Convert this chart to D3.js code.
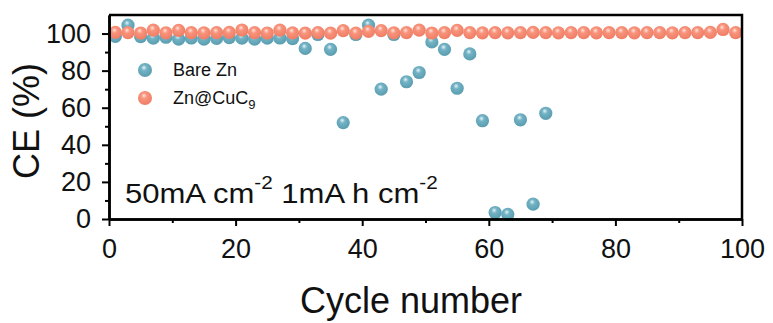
<!DOCTYPE html>
<html>
<head>
<meta charset="utf-8">
<script src="https://cdn.jsdelivr.net/npm/d3@7"></script>
<style>
  body { margin: 0; background: #fff; }
  svg { font-family: "Liberation Sans", Arial, sans-serif; }
</style>
</head>
<body>
<script>

// data
const bareCycles = [1, 3, 5, 7, 9, 11, 13, 15, 17, 19, 21, 23, 25, 27, 29, 31, 33, 35,
                    37, 39, 41, 43, 45, 47, 49, 51, 53, 55, 57, 59, 61, 63, 65, 67, 69];
const bareCE = [98.5, 104.5, 98.3, 97.5, 98, 97, 97.6, 97, 97.4, 97.8, 97.5, 97, 97.5, 97.6, 97.3, 92, 99.5, 91.5,
                52, 99.5, 104.5, 70, 99.5, 74, 79, 95.5, 91.5, 70.5, 89, 53, 3.5, 2.5, 53.5, 8, 57];

const cucCycles = [1, 3, 5, 7, 9, 11, 13, 15, 17, 19, 21, 23, 25, 27, 29, 31, 33, 35, 37, 39,
                   41, 43, 45, 47, 49, 51, 53, 55, 57, 59, 61, 63, 65, 67, 69, 71, 73, 75, 77, 79,
                   81, 83, 85, 87, 89, 91, 93, 95, 97, 99];
const cucCE = [100.6, 100.5, 100.3, 101.8, 100.4, 101.7, 100.5, 100.4, 100.5, 100.6,
               101.9, 100.5, 100.3, 101.8, 100.4, 100.2, 100.5, 100.2, 101.6, 100.2,
               101.2, 101.6, 100.4, 100.5, 101.8, 100.3, 100.5, 101.7, 100.5, 100.4,
               100.5, 100.4, 100.5, 100.6, 100.5, 100.4, 100.5, 100.5, 100.4, 100.5,
               100.5, 100.4, 100.5, 100.5, 100.4, 100.5, 100.5, 100.6, 102.2, 100.5];

const xTicks = [0, 20, 40, 60, 80, 100];
const xMinor = [10, 30, 50, 70, 90];
const yTicks = [0, 20, 40, 60, 80, 100];
const yMinor = [10, 30, 50, 70, 90];

const seriesNames = ["Bare Zn", "Zn@CuC"];

// size and plot box
const WIDTH = 773;
const HEIGHT = 323;
const PLOT = {left: 109, right: 742, top: 15, bottom: 219};
const R = 6.6;

let svg = d3.select("body")
            .append("svg")
            .attr("width", WIDTH)
            .attr("height", HEIGHT);

// shaded ball look for the markers
let defs = svg.append("defs");
function ball(id, light, mid, dark) {
    let g = defs.append("radialGradient")
                .attr("id", id)
                .attr("cx", "45%").attr("cy", "40%").attr("r", "60%")
                .attr("fx", "42%").attr("fy", "32%");
    g.append("stop").attr("offset", "0%").attr("stop-color", light);
    g.append("stop").attr("offset", "35%").attr("stop-color", mid);
    g.append("stop").attr("offset", "100%").attr("stop-color", dark);
}
ball("gBlue", "#e6f4f8", "#72b2c4", "#5a9db0");
ball("gOrange", "#fde3da", "#f8937c", "#ef7d64");

const xScale = d3.scaleLinear()
                 .domain([0, 100])
                 .range([PLOT.left, PLOT.right]);

const yScale = d3.scaleLinear()
                 .domain([0, 110])
                 .range([PLOT.bottom, PLOT.top]);

// markers: bare Zn below, Zn@CuC9 on top
svg.append("g")
   .selectAll("circle")
   .data(bareCycles)
   .enter()
   .append("circle")
   .attr("cx", d => xScale(d))
   .attr("cy", (d, i) => yScale(bareCE[i]))
   .attr("r", R)
   .attr("fill", "url(#gBlue)");

svg.append("g")
   .selectAll("circle")
   .data(cucCycles)
   .enter()
   .append("circle")
   .attr("cx", d => xScale(d))
   .attr("cy", (d, i) => yScale(cucCE[i]))
   .attr("r", R)
   .attr("fill", "url(#gOrange)");

// frame on top and right
svg.append("path")
   .attr("d", "M" + PLOT.left + "," + PLOT.top + "H" + PLOT.right + "V" + PLOT.bottom)
   .attr("fill", "none")
   .attr("stroke", "black")
   .attr("stroke-width", 2.5);

// x axis, major and minor ticks
let xAxis = svg.append("g")
   .attr("transform", "translate(0," + PLOT.bottom + ")")
   .call(d3.axisBottom(xScale).tickValues(xTicks).tickSize(7).tickSizeOuter(0).tickPadding(13));
svg.append("g")
   .attr("transform", "translate(0," + PLOT.bottom + ")")
   .call(d3.axisBottom(xScale).tickValues(xMinor).tickSize(4).tickSizeOuter(0).tickFormat(""));

// y axis
let yAxis = svg.append("g")
   .attr("transform", "translate(" + PLOT.left + ",0)")
   .call(d3.axisLeft(yScale).tickValues(yTicks).tickSize(7).tickSizeOuter(0).tickPadding(11));
svg.append("g")
   .attr("transform", "translate(" + PLOT.left + ",0)")
   .call(d3.axisLeft(yScale).tickValues(yMinor).tickSize(4).tickSizeOuter(0).tickFormat(""));

svg.selectAll(".domain").attr("stroke-width", 2.5);
svg.selectAll(".tick line").attr("stroke-width", 2);
[xAxis, yAxis].forEach(a => a.attr("font-size", 27)
                              .attr("font-family", "Liberation Sans, Arial, sans-serif"));
svg.selectAll(".tick text").attr("fill", "#111");

// axis titles
svg.append("text")
   .attr("x", 411)
   .attr("y", 313)
   .attr("text-anchor", "middle")
   .attr("font-size", 36)
   .attr("fill", "#111")
   .text("Cycle number");

svg.append("text")
   .attr("transform", "translate(39,121) rotate(-90)")
   .attr("text-anchor", "middle")
   .attr("font-size", 36)
   .attr("fill", "#111")
   .text("CE (%)");

// legend
const legendY = [70, 98];
const legendFill = ["url(#gBlue)", "url(#gOrange)"];
legendY.forEach((ly, i) => {
    svg.append("circle")
       .attr("cx", 145)
       .attr("cy", ly)
       .attr("r", 7)
       .attr("fill", legendFill[i]);
});
svg.append("text")
   .attr("x", 173).attr("y", 76)
   .attr("font-size", 18).attr("fill", "#111")
   .text(seriesNames[0]);
let leg2 = svg.append("text")
   .attr("x", 173).attr("y", 104)
   .attr("font-size", 18).attr("fill", "#111");
leg2.append("tspan").text(seriesNames[1]);
leg2.append("tspan").attr("dy", 5).attr("font-size", 13).text("9");

// condition note
let note = svg.append("text")
   .attr("transform", "translate(125,203) scale(1.15,1)")
   .attr("font-size", 27)
   .attr("fill", "#111");
note.append("tspan").text("50mA cm");
note.append("tspan").attr("dy", -14).attr("font-size", 18).text("-2");
note.append("tspan").attr("dy", 14).text(" 1mA h cm");
note.append("tspan").attr("dy", -14).attr("font-size", 18).text("-2");

</script>
</body>
</html>
